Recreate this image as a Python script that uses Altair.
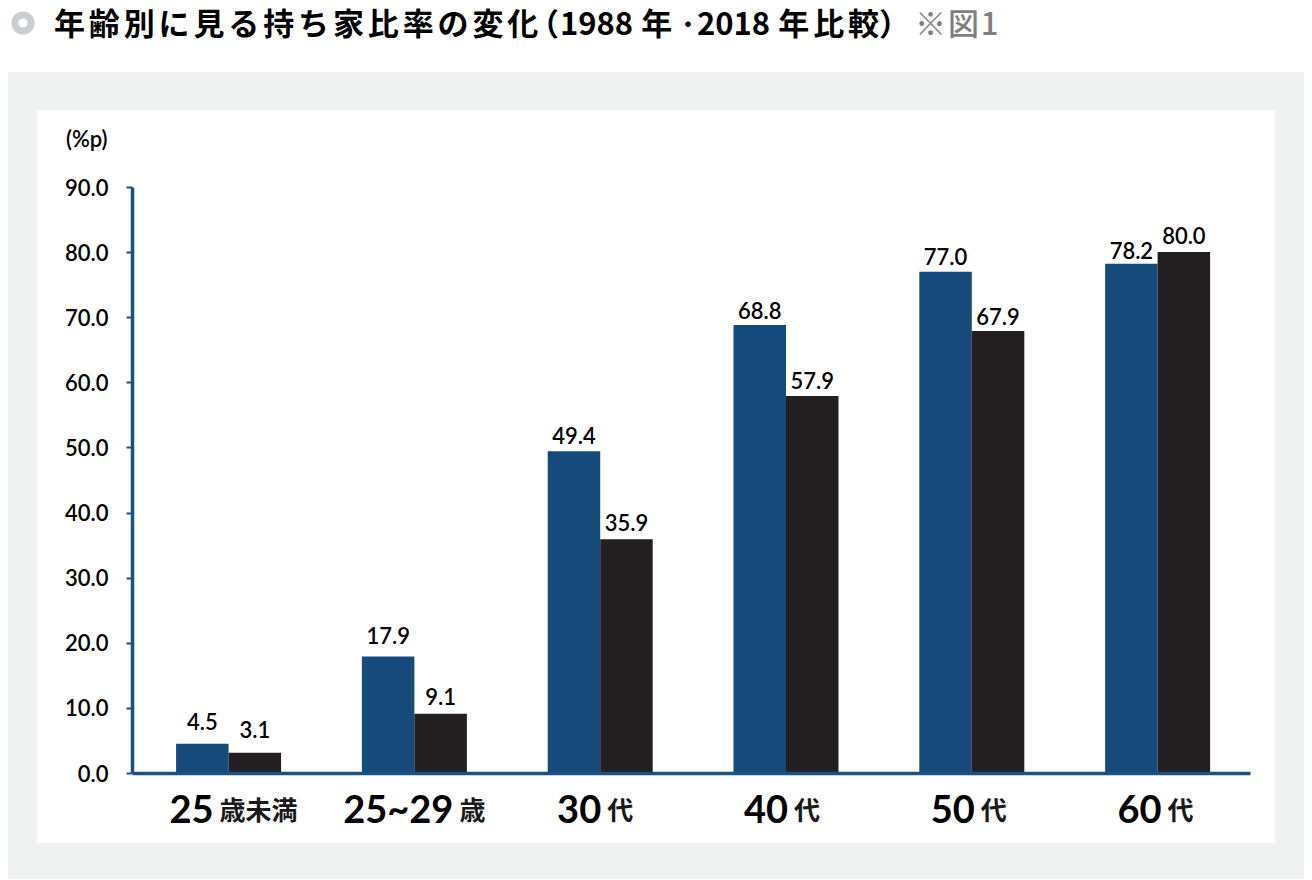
import altair as alt
import pandas as pd

categories = ["25歳未満", "25~29歳", "30代", "40代", "50代", "60代"]
cat_numbers = ["25", "25~29", "30", "40", "50", "60"]
cat_suffixes = ["歳未満", "歳", "代", "代", "代", "代"]
values_1988 = [4.5, 17.9, 49.4, 68.8, 77.0, 78.2]
values_2018 = [3.1, 9.1, 35.9, 57.9, 67.9, 80.0]
series_names = ["1988", "2018"]

BLUE = "#154a7a"
AXIS = "#1a5083"
BLACK = "#231f20"
GRAY = "#f0f2f1"
W, H = 1118, 586
OX, OY = 132, 187  # plot origin on the page
HAIR = "\u200a"
CJK_GAP = HAIR * 2  # the source title is set with slight tracking
WORD_GAP = "\u2009" + HAIR

rows = []
for c, a, b in zip(categories, values_1988, values_2018):
    rows.append({"cat": c, "series": "1988", "value": a})
    rows.append({"cat": c, "series": "2018", "value": b})
df = pd.DataFrame(rows)

xscale = alt.Scale(domain=categories, paddingInner=0.435, paddingOuter=0.226, align=0.525)
offs = alt.XOffset("series:N", scale=alt.Scale(domain=series_names, paddingInner=0, paddingOuter=0))
yscale = alt.Scale(domain=[0, 90], nice=False)

one = alt.Data(values=[{}])


def px(v):
    return alt.value(v - OX)


def py(v):
    return alt.value(v - OY)


def panel(x0, x1, y0, y1, color):
    return alt.Chart(one).mark_rect(color=color).encode(
        x=px(x0), x2=px(x1), y=py(y0), y2=py(y1)
    )


def free_text(s, x, y, size, color="#000000", font="Noto Sans CJK JP", weight="bold", align="left"):
    return alt.Chart(one).mark_text(
        text=s, font=font, fontSize=size, fontWeight=weight, color=color, align=align, baseline="middle"
    ).encode(x=px(x), y=py(y))


bars = alt.Chart(df).mark_bar(size=52.5, stroke=None).encode(
    x=alt.X(
        "cat:N", scale=xscale, sort=categories, title=None,
        axis=alt.Axis(labels=False, ticks=False, domainWidth=3.5, domainColor=AXIS, grid=False, zindex=1),
    ),
    xOffset=offs,
    y=alt.Y(
        "value:Q", scale=yscale, title=None,
        axis=alt.Axis(
            values=[i * 10 for i in range(10)], format=".1f", grid=False, domainWidth=3.5, domainColor=AXIS,
            tickColor=AXIS, tickWidth=2, tickSize=6, labelPadding=18, labelFont="Lato", labelFontSize=22,
            labelFontWeight=600, labelColor="#000000", labelOffset=1, zindex=1,
        ),
    ),
    color=alt.Color("series:N", scale=alt.Scale(domain=series_names, range=[BLUE, BLACK]), legend=None),
)

# gap between bar top and its label, per label as drawn in the source
label_gaps = {
    "1988": [13, 11, 6, 5, 6, 4],
    "2018": [14, 8, 7, 6, 5, 7],
}
value_labels = []
for s, vals in zip(series_names, [values_1988, values_2018]):
    for c, v, gap in zip(categories, vals, label_gaps[s]):
        value_labels.append(
            alt.Chart(df[(df.cat == c) & (df.series == s)]).mark_text(
                font="Lato", fontSize=22, fontWeight=600, color="#000000", baseline="bottom", dy=-gap + 4
            ).encode(
                x=alt.X("cat:N", scale=xscale, sort=categories),
                xOffset=offs,
                y=alt.Y("value:Q", scale=yscale),
                text=alt.Text("value:Q", format=".1f"),
            )
        )

# offset of the number/suffix junction from each group's centre
junctions = [-15, 39, 1, 2, 3, 4]
cat_labels = []
for c, n, suf, j in zip(categories, cat_numbers, cat_suffixes, junctions):
    d = pd.DataFrame({"cat": [c], "v": [0]})
    base = alt.Chart(d).encode(x=alt.X("cat:N", scale=xscale, sort=categories), y=alt.value(H + 39))
    cat_labels.append(
        base.mark_text(text=n, font="Lato", fontSize=38, fontWeight="bold", color="#000000", align="right", baseline="middle", dx=j)
    )
    cat_labels.append(
        base.mark_text(text=suf, font="Noto Sans CJK JP", fontSize=26, fontWeight="bold", color="#1a1a1a", align="left", baseline="middle", dx=j + 6)
    )

icon = alt.Chart(one).mark_point(filled=False, size=260, stroke="#b5bac0", strokeWidth=7, shape="circle").encode(
    x=px(23), y=py(23)
)

chart = alt.layer(
    panel(8, 1304, 8, 72, "#ffffff"),
    panel(37, 1275, 110, 843, "#ffffff"),
    bars,
    *value_labels,
    *cat_labels,
    icon,
    free_text(CJK_GAP.join("年齢別に見る持ち家比率の変化"), 54, 26, 31),
    free_text("（", 528, 26, 31),
    free_text("1988" + WORD_GAP + "年", 560, 26, 31),
    free_text("・", 678, 26, 20, weight=900),
    free_text("2018" + WORD_GAP + "年" + CJK_GAP + "比" + CJK_GAP + "較）", 697, 26, 31),
    free_text(HAIR.join(["※", "図", "1"]), 915, 26, 31, color="#7f7f7f", weight=500),
    free_text("(%p)", 66, 140, 22, font="Lato", weight=600),
).properties(
    width=W,
    height=H,
    padding={"left": OX - 8, "top": OY - 8, "right": 1296 - (OX - 8) - W, "bottom": 871 - (OY - 8) - H},
    autosize=alt.AutoSizeParams(type="none"),
    background=GRAY,
).configure_view(stroke=None)

chart.save("out.html", embed_options={"renderer": "svg", "actions": False})
